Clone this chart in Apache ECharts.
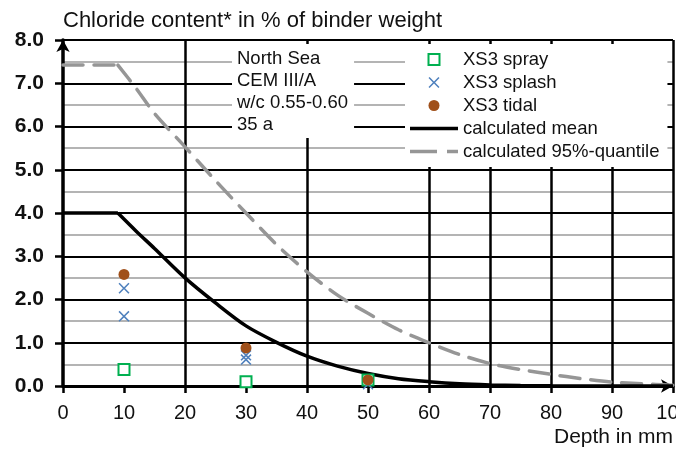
<!DOCTYPE html>
<html>
<head>
    <meta charset="utf-8">
    <title>Chloride content</title>
    <script src="https://cdn.jsdelivr.net/npm/echarts@6/dist/echarts.min.js"></script>
    <style type="text/css">
        html, body { margin: 0; padding: 0; background: #fff; }
        #chart { width: 676px; height: 450px; }
    </style>
</head>
<body>
<div id="chart"></div>
<script>
    // values
    var vGridX = [20, 40, 60, 70, 80, 90, 100];

    var sprayX = [10, 30, 50];
    var sprayY = [0.38, 0.10, 0.14];

    var splashX = [10, 10, 30, 30, 50];
    var splashY = [2.26, 1.61, 0.71, 0.61, 0.04];

    var tidalX = [10, 30, 50];
    var tidalY = [2.58, 0.88, 0.14];

    // flat part up to the kink, then the decreasing curve
    var meanFlatX = [0, 9];
    var meanFlatY = [4.0, 4.0];
    var meanX = [9, 12, 15, 20, 25, 30, 35, 40, 45, 50, 55, 60, 65, 70, 75, 80, 90, 100];
    var meanY = [4.0, 3.58, 3.18, 2.50, 1.92, 1.39, 1.01, 0.69, 0.46, 0.29, 0.17, 0.10, 0.05, 0.025, 0.012, 0.005, 0.0, 0.0];

    var q95FlatX = [0, 9];
    var q95FlatY = [7.42, 7.42];
    var q95X = [9, 12, 15, 20, 25, 30, 35, 40, 45, 50, 55, 60, 65, 70, 75, 80, 85, 90, 95, 100];
    var q95Y = [7.42, 6.88, 6.30, 5.53, 4.75, 4.0, 3.27, 2.64, 2.10, 1.68, 1.30, 1.0, 0.73, 0.52, 0.38, 0.27, 0.17, 0.09, 0.05, 0.02];

    var noteLines = ['North Sea', 'CEM III/A', 'w/c 0.55-0.60', '35 a'];

    function pairs(xs, ys) {
        return xs.map(function (x, i) { return [x, ys[i]]; });
    }

    var FONT = 'Liberation Sans, Arial, sans-serif';
    var crossPath = 'path://M0,1L1,0L5,4L9,0L10,1L6,5L10,9L9,10L5,6L1,10L0,9L4,5Z';
    var lineIcon = 'path://M0,0L48,0L48,3.5L0,3.5Z';
    var dashIcon = 'path://M0,0L27,0L27,3.5L0,3.5Z M37,0L48,0L48,3.5L37,3.5Z';

    var myChart = echarts.init(document.getElementById('chart'), null, {renderer: 'canvas'});

    var meanStyle = {color: '#000', width: 3.5};
    var q95Style = {color: '#969696', width: 3.5, type: [20, 11], cap: 'round'};

    var option = {
        animation: false,
        textStyle: {fontFamily: FONT},
        title: [
            {
                text: 'Chloride content* in % of binder weight',
                left: 63, top: 10, padding: 0,
                textStyle: {fontFamily: FONT, fontSize: 22, fontWeight: 'normal', color: '#111'}
            },
            {
                text: noteLines.join('\n'),
                left: 232, top: 44, padding: [4, 6, 2, 5],
                z: 20,
                backgroundColor: '#fff',
                textStyle: {fontFamily: FONT, fontSize: 18.5, lineHeight: 22, fontWeight: 'normal', color: '#111'}
            }
        ],
        legend: {
            orient: 'vertical',
            left: 405, top: 44,
            z: 20,
            padding: [6, 8, 6, 5],
            backgroundColor: '#fff',
            itemWidth: 48, itemHeight: 11, itemGap: 4,
            symbolKeepAspect: true,
            textStyle: {fontFamily: FONT, fontSize: 18.5, lineHeight: 18, color: '#111'},
            data: [
                {name: 'XS3 spray', icon: 'path://M0,0L10,0L10,10L0,10Z', itemStyle: {color: '#fff', borderColor: '#00b050', borderWidth: 2}},
                {name: 'XS3 splash', icon: crossPath, itemStyle: {color: '#4f81bd', borderWidth: 0}},
                {name: 'XS3 tidal', icon: 'circle', itemStyle: {color: '#a0501a', borderWidth: 0}},
                {name: 'calculated mean', icon: lineIcon, itemStyle: {color: '#000', borderWidth: 0}},
                {name: 'calculated 95%-quantile', icon: dashIcon, itemStyle: {color: '#969696', borderWidth: 0}}
            ]
        },
        grid: {left: 63, right: 3, top: 40, bottom: 64, outerBoundsMode: 'none', containLabel: false},
        xAxis: {
            type: 'value',
            min: 0, max: 100, interval: 10,
            name: 'Depth in mm',
            nameLocation: 'end',
            nameGap: 0,
            nameTextStyle: {fontFamily: FONT, fontSize: 21, color: '#111', align: 'right', verticalAlign: 'top', padding: [41, 0, 0, 0]},
            axisLine: {lineStyle: {color: '#000', width: 3}, symbol: ['none', 'arrow'], symbolSize: [10, 12]},
            axisTick: {show: true, length: 7, lineStyle: {color: '#000', width: 2.5}},
            axisLabel: {fontFamily: FONT, fontSize: 20, color: '#111', margin: 17, hideOverlap: false},
            splitLine: {show: false}
        },
        yAxis: {
            type: 'value',
            min: 0, max: 8, interval: 1,
            axisLine: {show: true, lineStyle: {color: '#000', width: 3.5}, symbol: ['none', 'arrow'], symbolSize: [10, 12]},
            axisTick: {show: true, length: 8, lineStyle: {color: '#000', width: 2.5}},
            axisLabel: {
                fontFamily: FONT, fontSize: 21, fontWeight: 'bold', color: '#111', margin: 19,
                formatter: function (v) { return v.toFixed(1); }
            },
            splitLine: {show: true, lineStyle: {color: '#000', width: 2}},
            minorTick: {show: false, splitNumber: 2},
            minorSplitLine: {show: true, lineStyle: {color: '#b4b4b4', width: 2}}
        },
        series: [
            {
                name: 'vgrid',
                type: 'line',
                data: [],
                silent: true,
                markLine: {
                    silent: true,
                    z: 1,
                    symbol: ['none', 'none'],
                    label: {show: false},
                    lineStyle: {color: '#000', width: 2.5, type: 'solid'},
                    data: vGridX.map(function (x) { return {xAxis: x}; })
                }
            },
            {
                name: 'calculated 95%-quantile',
                type: 'line',
                data: pairs(q95FlatX, q95FlatY),
                symbol: 'none',
                z: 3,
                itemStyle: {color: '#969696'},
                lineStyle: q95Style
            },
            {
                name: 'calculated 95%-quantile',
                type: 'line',
                data: pairs(q95X, q95Y),
                symbol: 'none',
                smooth: 0.3,
                z: 3,
                itemStyle: {color: '#969696'},
                lineStyle: q95Style
            },
            {
                name: 'calculated mean',
                type: 'line',
                data: pairs(meanFlatX, meanFlatY),
                symbol: 'none',
                z: 4,
                itemStyle: {color: '#000'},
                lineStyle: meanStyle
            },
            {
                name: 'calculated mean',
                type: 'line',
                data: pairs(meanX, meanY),
                symbol: 'none',
                smooth: 0.3,
                z: 4,
                itemStyle: {color: '#000'},
                lineStyle: meanStyle
            },
            {
                name: 'XS3 spray',
                type: 'scatter',
                data: pairs(sprayX, sprayY),
                symbol: 'rect',
                symbolSize: 11,
                z: 6,
                itemStyle: {color: '#fff', borderColor: '#00b050', borderWidth: 2, opacity: 1}
            },
            {
                name: 'XS3 splash',
                type: 'scatter',
                data: pairs(splashX, splashY),
                symbol: crossPath,
                symbolSize: 11,
                z: 7,
                itemStyle: {color: '#4f81bd', opacity: 1}
            },
            {
                name: 'XS3 tidal',
                type: 'scatter',
                data: pairs(tidalX, tidalY),
                symbol: 'circle',
                symbolSize: 11,
                z: 8,
                itemStyle: {color: '#a0501a', opacity: 1}
            }
        ]
    };

    option && myChart.setOption(option);
</script>
</body>
</html>
